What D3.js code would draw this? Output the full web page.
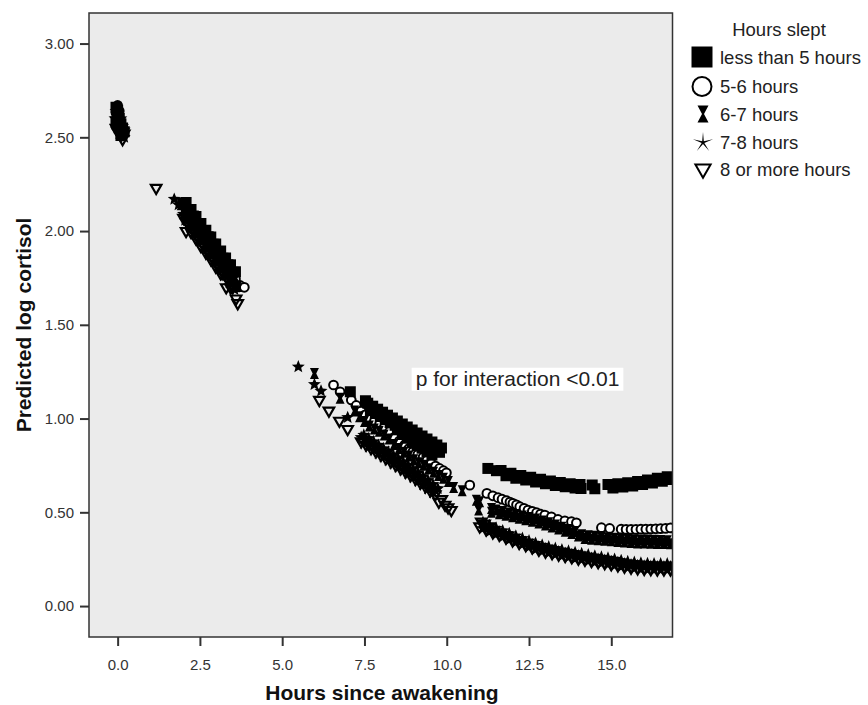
<!DOCTYPE html>
<html>
<head>
<meta charset="utf-8">
<title>Predicted log cortisol by hours slept</title>
<script src="https://d3js.org/d3.v7.min.js"></script>
<style>
  body { margin: 0; background: #fff; }
  svg { display: block; font-family: "Liberation Sans", Arial, sans-serif; }
  .tick text { fill: #333; font-size: 15px; font-family: "Liberation Sans", Arial, sans-serif; }
  .tick line { stroke: #333; stroke-width: 2px; }
</style>
</head>
<body>
<svg id="chart" width="868" height="705"></svg>
<script>
// [hours since awakening, predicted log cortisol]
const lessThan5 = [
  [-0.05,2.66],[0.0,2.62],[0.05,2.60],[0.1,2.57],[-0.05,2.58],[0.1,2.51],[0.0,2.645],[0.15,2.55],[0.2,2.53],
  [2.0,2.15],[2.15,2.11],[2.3,2.08],[2.45,2.04],[2.6,2.0],[2.75,1.97],[2.9,1.93],[3.05,1.89],[3.2,1.855],[3.35,1.82],[3.5,1.78],
  [2.08,2.152],[2.23,2.115],[2.38,2.078],[2.53,2.041],[2.68,2.005],[2.83,1.968],[2.98,1.931],[3.13,1.894],[3.28,1.857],[3.43,1.82],[3.58,1.783],
  [7.07,1.143],[7.53,1.095],
  [7.6,1.082],[7.75,1.066],[7.9,1.05],[8.05,1.034],[8.2,1.018],[8.35,1.003],[8.5,0.987],[8.65,0.971],[8.8,0.955],[8.95,0.939],[9.1,0.923],[9.25,0.907],[9.4,0.891],[9.55,0.875],[9.7,0.859],[9.84,0.843],
  [7.68,1.043],[7.83,1.027],[7.98,1.011],[8.13,0.995],[8.28,0.979],[8.43,0.964],[8.58,0.948],[8.73,0.932],[8.88,0.916],[9.03,0.90],[9.18,0.884],[9.33,0.868],[9.48,0.852],[9.63,0.836],[9.78,0.82],
  [8.5,0.94],[8.65,0.915],[8.8,0.895],[8.95,0.871],[9.1,0.855],[9.25,0.842],[9.4,0.823],[9.55,0.805],
  [11.25,0.734],[11.51,0.722],
  [11.65,0.723],[11.95,0.708],[12.25,0.697],[12.55,0.687],[12.85,0.677],[13.15,0.667],[13.45,0.659],[13.75,0.653],[14.05,0.648],[14.42,0.646],[14.9,0.648],[15.2,0.652],[15.5,0.658],[15.8,0.665],[16.1,0.673],[16.4,0.682],[16.7,0.69],
  [11.8,0.695],[12.1,0.682],[12.4,0.672],[12.7,0.662],[13.0,0.652],[13.3,0.643],[13.6,0.636],[13.9,0.63],[14.08,0.627],[14.5,0.626],[15.05,0.63],[15.35,0.635],[15.65,0.641],[15.95,0.649],[16.25,0.657],[16.55,0.666],[16.85,0.675]
];
const fiveToSix = [
  [0.0,2.67],[-0.05,2.63],[0.05,2.64],[0.1,2.55],
  [2.08,2.11],[2.38,2.04],[2.68,1.965],[2.98,1.89],[3.28,1.82],[3.58,1.745],[3.72,1.71],[3.85,1.70],
  [6.56,1.179],[6.76,1.143],[7.1,1.099],[7.25,1.07],[7.4,1.04],[7.52,1.02],[7.65,1.0],[7.8,0.985],[7.96,0.971],[8.1,0.952],[8.26,0.93],[8.41,0.90],[8.56,0.88],[8.72,0.859],[8.85,0.84],[8.97,0.823],[9.12,0.808],[9.28,0.793],[9.4,0.777],[9.53,0.761],[9.66,0.747],[9.78,0.734],[9.9,0.722],[9.99,0.711],[10.7,0.645],
  [11.22,0.601],[11.4,0.588],[11.56,0.578],[11.68,0.57],[11.81,0.562],[11.92,0.555],[12.01,0.548],[12.12,0.54],[12.22,0.53],[12.35,0.521],[12.47,0.512],[12.6,0.505],[12.73,0.498],[12.85,0.491],[12.98,0.485],[13.18,0.476],[13.38,0.462],[13.59,0.455],[13.79,0.45],[13.94,0.444],
  [14.7,0.418],[14.95,0.414],[15.3,0.41],[15.45,0.409],[15.6,0.409],[15.75,0.409],[15.9,0.41],[16.05,0.41],[16.2,0.411],[16.35,0.412],[16.5,0.413],[16.65,0.414],[16.8,0.417]
];
const sixToSeven = [
  [0.0,2.59],[-0.05,2.57],[0.05,2.56],[0.15,2.52],[0.0,2.64],[0.05,2.62],
  [1.93,2.14],[2.0,2.11],[2.15,2.075],[2.3,2.035],[2.45,2.0],[2.6,1.965],[2.75,1.925],[2.9,1.89],[3.05,1.85],[3.2,1.815],[3.35,1.78],[3.5,1.74],[3.65,1.705],
  [2.08,2.115],[2.23,2.08],[2.38,2.045],[2.53,2.005],[2.68,1.97],[2.83,1.935],[2.98,1.895],[3.13,1.86],[3.28,1.825],[3.43,1.785],[3.58,1.75],
  [5.98,1.241],[6.76,1.108],
  [7.2,1.04],[7.35,1.01],[7.5,0.985],[7.65,0.96],[7.8,0.945],[7.95,0.932],[8.1,0.912],[8.25,0.891],[8.4,0.862],[8.55,0.841],[8.7,0.821],[8.85,0.80],[9.0,0.78],[9.15,0.765],[9.3,0.751],[9.45,0.732],[9.6,0.714],[9.75,0.697],[9.9,0.682],[10.05,0.665],[10.21,0.633],[10.47,0.615],[10.9,0.565],[10.97,0.512],
  [11.0,0.556],[11.36,0.52],[11.36,0.50],
  [11.5,0.512],[11.7,0.504],[11.9,0.496],[12.1,0.488],[12.3,0.48],[12.5,0.472],[12.7,0.464],[12.9,0.454],[13.1,0.444],[13.3,0.433],[13.5,0.421],[13.7,0.409],[13.9,0.398],[14.1,0.381],[14.3,0.375],[14.5,0.372],[14.7,0.368],[14.9,0.365],[15.1,0.362],[15.3,0.359],[15.5,0.356],[15.7,0.354],[15.9,0.353],[16.1,0.352],[16.3,0.351],[16.5,0.35],[16.7,0.349],
  [11.6,0.492],[11.8,0.484],[12.0,0.476],[12.2,0.468],[12.4,0.46],[12.6,0.452],[12.8,0.443],[13.0,0.433],[13.2,0.422],[13.4,0.411],[13.6,0.399],[13.8,0.387],[14.0,0.374],[14.2,0.361],[14.4,0.357],[14.6,0.354],[14.8,0.351],[15.0,0.348],[15.2,0.345],[15.4,0.342],[15.6,0.339],[15.8,0.337],[16.0,0.336],[16.2,0.335],[16.4,0.334],[16.6,0.334],[16.8,0.333]
];
const sevenToEight = [
  [-0.05,2.60],[0.0,2.55],[0.1,2.60],[0.2,2.50],[0.15,2.56],[0.05,2.52],[-0.05,2.64],[0.2,2.54],[-0.08,2.6],
  [1.72,2.17],[1.85,2.14],[2.08,2.07],[2.23,2.035],[2.38,2.0],[2.53,1.96],[2.68,1.925],[2.83,1.89],[2.98,1.85],[3.13,1.815],[3.28,1.775],[3.43,1.74],[3.58,1.70],
  [2.0,2.09],[2.15,2.055],[2.3,2.015],[2.45,1.98],[2.6,1.945],[2.75,1.905],[2.9,1.87],[3.05,1.83],[3.2,1.795],[3.35,1.76],[3.5,1.72],
  [2.05,2.058],[2.2,2.021],[2.35,1.984],[2.5,1.947],[2.65,1.91],[2.8,1.874],[2.95,1.837],[3.1,1.80],[3.25,1.763],[3.4,1.726],[3.55,1.689],
  [5.49,1.276],[5.98,1.182],[6.18,1.147],[6.99,1.006],
  [7.48,0.912],[7.63,0.894],[7.78,0.877],[7.93,0.858],[8.08,0.84],[8.23,0.822],[8.38,0.804],[8.53,0.786],[8.68,0.768],[8.83,0.75],[8.98,0.731],[9.13,0.711],[9.28,0.691],[9.43,0.67],[9.58,0.649],[9.73,0.627],
  [7.4,0.90],[7.55,0.882],[7.7,0.864],[7.85,0.846],[8.0,0.828],[8.15,0.81],[8.3,0.792],[8.45,0.774],[8.6,0.756],[8.75,0.738],[8.9,0.72],[9.05,0.70],[9.2,0.68],[9.35,0.66],[9.5,0.638],[9.65,0.617],
  [7.48,0.868],[7.63,0.85],[7.78,0.833],[7.93,0.814],[8.08,0.796],[8.23,0.778],[8.38,0.76],[8.53,0.742],[8.68,0.724],[8.83,0.706],[8.98,0.687],[9.13,0.667],[9.28,0.647],[9.43,0.626],[9.58,0.605],
  [11.1,0.447],[11.3,0.43],[11.5,0.416],[11.7,0.402],[11.9,0.387],[12.1,0.374],[12.3,0.361],[12.5,0.348],[12.7,0.335],[12.9,0.325],[13.1,0.316],[13.3,0.308],[13.5,0.30],[13.7,0.293],[13.9,0.286],[14.1,0.28],[14.3,0.273],[14.5,0.267],[14.7,0.261],[14.9,0.256],[15.1,0.25],[15.3,0.243],[15.5,0.237],[15.7,0.233],[15.9,0.23],[16.1,0.227],[16.3,0.226],[16.5,0.225],[16.7,0.225],[16.9,0.225],
  [11.2,0.423],[11.4,0.408],[11.6,0.395],[11.8,0.38],[12.0,0.365],[12.2,0.352],[12.4,0.34],[12.6,0.327],[12.8,0.315],[13.0,0.305],[13.2,0.297],[13.4,0.289],[13.6,0.282],[13.8,0.275],[14.0,0.268],[14.2,0.262],[14.4,0.255],[14.6,0.249],[14.8,0.244],[15.0,0.238],[15.2,0.232],[15.4,0.225],[15.6,0.22],[15.8,0.216],[16.0,0.213],[16.2,0.212],[16.4,0.21],[16.6,0.21],[16.8,0.21],
  [11.1,0.414],[11.3,0.397],[11.5,0.383],[11.7,0.369],[11.9,0.354],[12.1,0.341],[12.3,0.328],[12.5,0.315],[12.7,0.302],[12.9,0.292],[13.1,0.283],[13.3,0.275],[13.5,0.267],[13.7,0.26],[13.9,0.253],[14.1,0.247],[14.3,0.24],[14.5,0.234],[14.7,0.228],[14.9,0.223],[15.1,0.217],[15.3,0.21],[15.5,0.204],[15.7,0.20],[15.9,0.197],[16.1,0.194],[16.3,0.193],[16.5,0.192],[16.7,0.192],[16.9,0.192]
];
const eightOrMore = [
  [0.05,2.58],[0.0,2.53],[0.1,2.53],[0.15,2.49],[0.2,2.52],[-0.05,2.55],
  [1.17,2.23],[2.08,2.0],[2.0,2.07],[2.15,2.035],[2.3,2.0],[2.45,1.96],[2.6,1.925],[2.75,1.885],[2.9,1.85],[3.05,1.81],[3.2,1.775],[3.3,1.70],[3.35,1.74],[3.5,1.70],[3.6,1.64],[3.65,1.615],
  [2.23,1.995],[2.38,1.96],[2.53,1.92],[2.68,1.885],[2.83,1.85],[2.98,1.81],[3.13,1.775],[3.43,1.70],
  [6.13,1.099],[6.42,1.042],[6.74,0.988],[6.99,0.944],
  [7.4,0.878],[7.55,0.86],[7.7,0.842],[7.85,0.824],[8.0,0.806],[8.15,0.788],[8.3,0.77],[8.45,0.752],[8.6,0.734],[8.75,0.716],[8.9,0.698],[9.05,0.678],[9.2,0.658],[9.35,0.638],[9.5,0.616],[9.65,0.595],[9.76,0.556],[9.85,0.57],[9.95,0.54],[10.04,0.526],[10.14,0.512],
  [11.0,0.425],[11.05,0.45],[11.15,0.44],[11.2,0.408],[11.3,0.425],[11.4,0.393],[11.6,0.38],[11.8,0.365],[12.0,0.35],[12.2,0.337],[12.4,0.325],[12.6,0.312],[12.8,0.30],[13.0,0.29],[13.2,0.282],[13.4,0.274],[13.6,0.267],[13.8,0.26],[14.0,0.253],[14.2,0.247],[14.4,0.24],[14.6,0.234],[14.8,0.229],[15.0,0.223],[15.2,0.217],[15.4,0.21],[15.6,0.205],[15.8,0.201],[16.0,0.198],[16.2,0.197],[16.4,0.195],[16.6,0.195],[16.8,0.195]
];

const groupNames = ["less than 5 hours", "5-6 hours", "6-7 hours", "7-8 hours", "8 or more hours"];
const xTicks = [0, 2.5, 5, 7.5, 10, 12.5, 15];
const yTicks = [0, 0.5, 1, 1.5, 2, 2.5, 3];
const noteText = "p for interaction <0.01";

const svg = d3.select('#chart');
const plot = {left: 89, top: 13, right: 672.5, bottom: 637};

const x = d3.scaleLinear().domain([-0.87, 16.86]).range([plot.left, plot.right]);
const y = d3.scaleLinear().domain([-0.165, 3.163]).range([plot.bottom, plot.top]);

function starPath(ro, ri) {
  let p = [];
  for (let i = 0; i < 10; i++) {
    let r = i % 2 ? ri : ro;
    let a = Math.PI * i / 5;
    p.push([(r * Math.sin(a)).toFixed(2), (-r * Math.cos(a)).toFixed(2)]);
  }
  return 'M' + p.join('L') + 'Z';
}
function hourglassPath(w, h, waist) {
  return `M${-w/2},${-h/2}H${w/2}L${waist/2},0L${w/2},${h/2}H${-w/2}L${-waist/2},0Z`;
}

// one entry per group: small marker for the plot, big one for the legend
const styles = [
  {data: lessThan5, d: d3.symbol(d3.symbolSquare, 121)(), big: d3.symbol(d3.symbolSquare, 441)(), fill: '#000', stroke: 'none', sw: 0, bsw: 0, rot: 0},
  {data: fiveToSix, d: d3.symbol(d3.symbolCircle, 60)(), big: d3.symbol(d3.symbolCircle, 283)(), fill: '#fff', stroke: '#000', sw: 2, bsw: 2, rot: 0},
  {data: sixToSeven, d: hourglassPath(9, 11, 3.6), big: hourglassPath(11, 17, 2), fill: '#000', stroke: 'none', sw: 0, bsw: 0, rot: 0},
  {data: sevenToEight, d: starPath(6.8, 3), big: starPath(10.5, 1.4), fill: '#000', stroke: 'none', sw: 0, bsw: 0, rot: 0},
  {data: eightOrMore, d: d3.symbol(d3.symbolTriangle, 48)(), big: d3.symbol(d3.symbolTriangle, 100)(), fill: 'none', stroke: '#000', sw: 2.2, bsw: 2, rot: 180}
];
// open markers go underneath so the dense clusters stay solid black
const drawOrder = [1, 4, 0, 2, 3];

svg.append('defs').append('clipPath').attr('id', 'plotclip')
  .append('rect')
  .attr('x', plot.left).attr('y', plot.top)
  .attr('width', plot.right - plot.left).attr('height', plot.bottom - plot.top);

svg.append('rect')
  .attr('x', plot.left).attr('y', plot.top)
  .attr('width', plot.right - plot.left).attr('height', plot.bottom - plot.top)
  .attr('fill', '#ebebeb');

let points = svg.append('g').attr('clip-path', 'url(#plotclip)');
drawOrder.forEach(k => {
  let s = styles[k];
  points.append('g').selectAll('path')
    .data(s.data)
    .join('path')
      .attr('d', s.d)
      .attr('transform', d => `translate(${x(d[0])},${y(d[1])}) rotate(${s.rot})`)
      .attr('fill', s.fill)
      .attr('stroke', s.stroke)
      .attr('stroke-width', s.sw);
});

// p value note
let note = svg.append('g');
let noteLabel = note.append('text')
  .attr('x', x(12.15)).attr('y', y(1.175))
  .attr('text-anchor', 'middle')
  .attr('font-size', 21)
  .attr('fill', '#222')
  .text(noteText);
let bb = noteLabel.node().getBBox();
note.insert('rect', 'text')
  .attr('x', bb.x - 4).attr('y', bb.y + 1)
  .attr('width', bb.width + 8).attr('height', bb.height)
  .attr('fill', '#fff');

// frame
svg.append('rect')
  .attr('x', plot.left).attr('y', plot.top)
  .attr('width', plot.right - plot.left).attr('height', plot.bottom - plot.top)
  .attr('fill', 'none').attr('stroke', '#333').attr('stroke-width', 1.5);

svg.append('g')
  .attr('transform', `translate(0,${plot.bottom})`)
  .call(d3.axisBottom(x).tickValues(xTicks).tickFormat(d3.format('.1f')).tickSize(9).tickPadding(13))
  .call(g => g.select('.domain').remove());

svg.append('g')
  .attr('transform', `translate(${plot.left},0)`)
  .call(d3.axisLeft(y).tickValues(yTicks).tickFormat(d3.format('.2f')).tickSize(9).tickPadding(6))
  .call(g => g.select('.domain').remove());

svg.append('text')
  .attr('x', 382).attr('y', 700)
  .attr('text-anchor', 'middle')
  .attr('font-size', 21).attr('font-weight', 'bold').attr('fill', '#111')
  .text('Hours since awakening');

svg.append('text')
  .attr('transform', 'translate(31,325) rotate(-90)')
  .attr('text-anchor', 'middle')
  .attr('font-size', 21).attr('font-weight', 'bold').attr('fill', '#111')
  .text('Predicted log cortisol');

// legend
let legend = svg.append('g');
legend.append('text')
  .attr('x', 779).attr('y', 36)
  .attr('text-anchor', 'middle')
  .attr('font-size', 18.5).attr('fill', '#222')
  .text('Hours slept');

const rowY = [57, 86.5, 114, 142.5, 169];
let rows = legend.selectAll('g.row')
  .data(groupNames)
  .join('g')
    .attr('class', 'row')
    .attr('transform', (d, i) => `translate(0,${rowY[i]})`);

rows.append('path')
  .attr('d', (d, i) => styles[i].big)
  .attr('transform', (d, i) => `translate(${i < 2 ? 702 : 703},0) rotate(${styles[i].rot})`)
  .attr('fill', (d, i) => styles[i].fill)
  .attr('stroke', (d, i) => styles[i].stroke)
  .attr('stroke-width', (d, i) => styles[i].bsw);

rows.append('text')
  .attr('x', 720).attr('y', 6.6)
  .attr('font-size', 18.5).attr('fill', '#222')
  .text(d => d);
</script>
</body>
</html>
